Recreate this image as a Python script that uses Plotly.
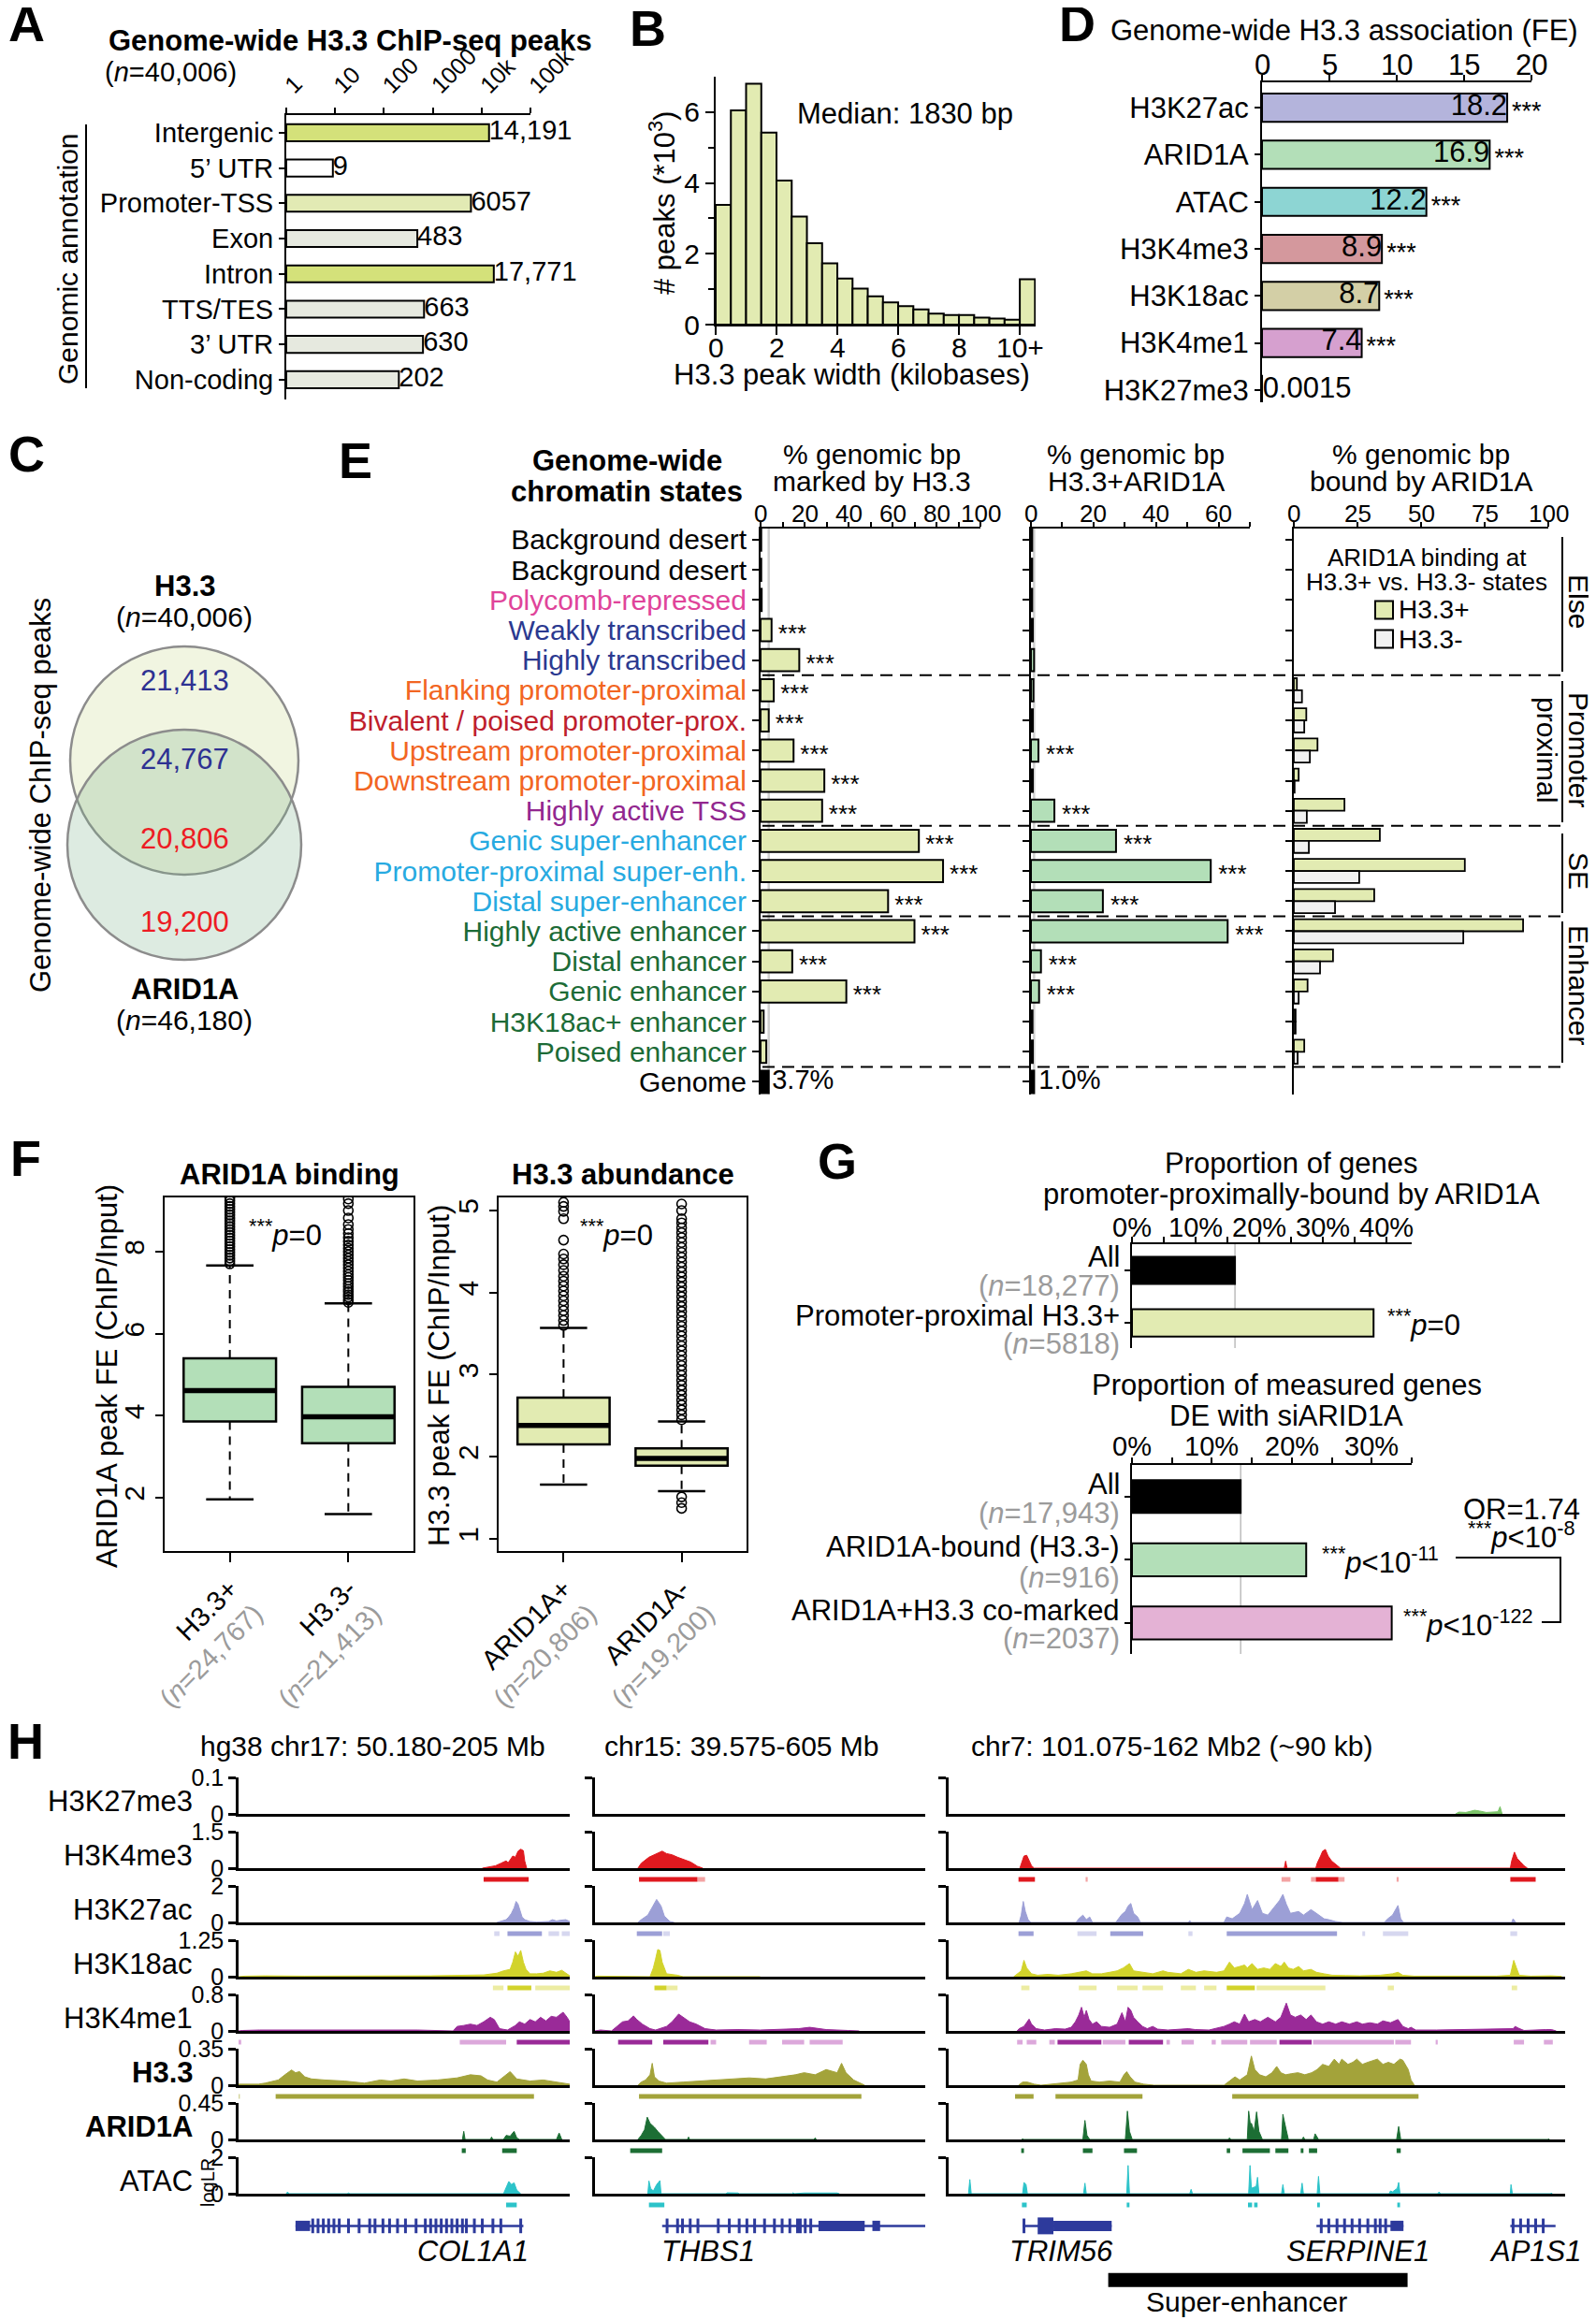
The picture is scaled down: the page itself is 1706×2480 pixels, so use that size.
import plotly.graph_objects as go

W, H = 1706, 2480
OFF = 8                      # page body margin of the browser
FW, FH = W - OFF, H - OFF    # figure size so the page fits exactly
FONT = "Arial, 'Liberation Sans', Helvetica, sans-serif"
K = "#000000"
NGRAY = "#9b9b9b"

# ======================= DATA =======================
# ---- A: genomic annotation of H3.3 peaks
A_annotation = ["Intergenic", "5’ UTR", "Promoter-TSS", "Exon", "Intron", "TTS/TES", "3’ UTR", "Non-coding"]
A_peaks = [14191, 9, 6057, 483, 17771, 663, 630, 202]
A_peak_labels = ["14,191", "9", "6057", "483", "17,771", "663", "630", "202"]
A_colors = ["#d4e17a", "#ffffff", "#e2eab4", "#e6e9df", "#d4e17a", "#e6e9df", "#e6e9df", "#e6e9df"]
A_tickvals = [1, 10, 100, 1000, 10000, 100000]
A_ticktext = ["1", "10", "100", "1000", "10k", "100k"]

# ---- B: peak width histogram
B_width_kb = [0.25, 0.75, 1.25, 1.75, 2.25, 2.75, 3.25, 3.75, 4.25, 4.75, 5.25, 5.75, 6.25,
              6.75, 7.25, 7.75, 8.25, 8.75, 9.25, 9.75, 10.25]
B_peaks_k = [3.38, 6.05, 6.8, 5.42, 4.07, 3.05, 2.3, 1.73, 1.3, 1.02, 0.8, 0.63, 0.52,
             0.43, 0.31, 0.27, 0.27, 0.2, 0.17, 0.14, 1.28]
B_tickvals = [0, 2, 4, 6, 8, 10]
B_ticktext = ["0", "2", "4", "6", "8", "10+"]

# ---- C: Venn
C_sets = ["H3.3", "ARID1A"]
C_totals = ["40,006", "46,180"]
C_region_counts = ["21,413", "24,767", "20,806", "19,200"]
C_region_colors = ["#2e3192", "#2e3192", "#ed1c24", "#ed1c24"]

# ---- D: H3.3 association FE
D_marks = ["H3K27ac", "ARID1A", "ATAC", "H3K4me3", "H3K18ac", "H3K4me1", "H3K27me3"]
D_fe = [18.2, 16.9, 12.2, 8.9, 8.7, 7.4, 0.0015]
D_fe_labels = ["18.2", "16.9", "12.2", "8.9", "8.7", "7.4", "0.0015"]
D_sig = ["***", "***", "***", "***", "***", "***", ""]
D_colors = ["#b4b4dc", "#b3dfb8", "#8dd5d3", "#d4989d", "#d3cfa6", "#d6a0cf", "#ffffff"]
D_tickvals = [0, 5, 10, 15, 20]

# ---- E: chromatin states
E_states = ["Background desert", "Background desert", "Polycomb-repressed", "Weakly transcribed",
            "Highly transcribed", "Flanking promoter-proximal", "Bivalent / poised promoter-prox.",
            "Upstream promoter-proximal", "Downstream promoter-proximal", "Highly active TSS",
            "Genic super-enhancer", "Promoter-proximal super-enh.", "Distal super-enhancer",
            "Highly active enhancer", "Distal enhancer", "Genic enhancer", "H3K18ac+ enhancer",
            "Poised enhancer", "Genome"]
E_state_colors = ["#000000", "#000000", "#e0449a", "#2b3990", "#2b3990", "#f26522", "#be1e2d",
                  "#f26522", "#f26522", "#92278f", "#27aae1", "#27aae1", "#27aae1", "#1c6b36",
                  "#1c6b36", "#1c6b36", "#1c6b36", "#1c6b36", "#000000"]
E_h33_pct = [0.3, 0.3, 0.5, 5.0, 17.6, 6.0, 3.7, 15.0, 29.0, 28.0, 72.0, 83.0, 58.0, 70.0,
             14.4, 39.0, 1.4, 2.6, 3.7]
E_h33_sig = ["", "", "", "***", "***", "***", "***", "***", "***", "***", "***", "***", "***",
             "***", "***", "***", "", "", ""]
E_co_pct = [0.4, 0.4, 0.4, 0.6, 1.0, 0.8, 0.6, 2.4, 0.6, 7.5, 27.2, 57.5, 23.0, 62.9, 3.2,
            2.6, 0.5, 0.6, 1.0]
E_co_sig = ["", "", "", "", "", "", "", "***", "", "***", "***", "***", "***", "***", "***",
            "***", "", "", ""]
E_genome_labels = ["3.7%", "1.0%"]
E3_plus = [None, None, None, None, None, 1.2, 4.9, 9.3, 1.9, 19.9, 33.8, 67.2, 31.6, 90.1,
           15.4, 5.4, 0.7, 4.1]
E3_minus = [None, None, None, None, None, 3.2, 4.1, 6.3, 0.3, 5.1, 5.9, 25.7, 16.2, 66.6,
            10.3, 1.9, 0.7, 1.5]
E_sections = ["Else", "Promoter", "SE", "Enhancer"]
E1_ticks = [0, 20, 40, 60, 80, 100]
E2_ticks = [0, 20, 40, 60]
E3_ticks = [0, 25, 50, 75, 100]

# ---- F: box plots
F_arid_groups = ["H3.3+", "H3.3-"]
F_arid_n = ["24,767", "21,413"]
F_arid_q1 = [3.86, 3.33]
F_arid_med = [4.61, 3.97]
F_arid_q3 = [5.40, 4.70]
F_arid_lo = [1.96, 1.60]
F_arid_hi = [7.66, 6.74]
F_arid_out_pos = [7.70, 7.77, 7.84, 7.91, 7.98, 8.05, 8.12, 8.19, 8.26, 8.33, 8.40, 8.47, 8.54,
                  8.61, 8.68, 8.75, 8.82, 8.89, 8.96, 9.03, 9.10, 9.17, 9.24, 9.31]
F_arid_out_neg = [6.76, 6.82, 6.89, 6.95, 7.02, 7.08, 7.15, 7.22, 7.30, 7.37, 7.44, 7.52, 7.60,
                  7.68, 7.76, 7.84, 7.92, 8.00, 8.08, 8.16, 8.25, 8.34, 8.44, 8.54, 8.66, 8.82,
                  9.00, 9.17, 9.28]
F_h33_groups = ["ARID1A+", "ARID1A-"]
F_h33_n = ["20,806", "19,200"]
F_h33_q1 = [2.15, 1.89]
F_h33_med = [2.38, 1.98]
F_h33_q3 = [2.72, 2.10]
F_h33_lo = [1.66, 1.58]
F_h33_hi = [3.57, 2.43]
F_h33_out_pos = [3.60, 3.66, 3.72, 3.78, 3.84, 3.90, 3.96, 4.02, 4.08, 4.14, 4.20, 4.27, 4.34,
                 4.41, 4.47, 4.64, 4.90, 4.99, 5.05, 5.10]
F_h33_out_neg = [2.45, 2.51, 2.57, 2.63, 2.69, 2.75, 2.81, 2.87, 2.93, 2.99, 3.05, 3.11, 3.17,
                 3.23, 3.29, 3.35, 3.41, 3.47, 3.53, 3.59, 3.65, 3.71, 3.77, 3.83, 3.89, 3.95,
                 4.01, 4.07, 4.13, 4.19, 4.25, 4.31, 4.37, 4.43, 4.49, 4.55, 4.61, 4.67, 4.73,
                 4.79, 4.85, 4.90, 5.00, 5.08, 1.51, 1.44, 1.37]

# ---- G: proportions
G1_groups = ["All", "Promoter-proximal H3.3+"]
G1_n = ["18,277", "5818"]
G1_pct = [16.2, 38.0]
G1_colors = ["#000000", "#e2ebb2"]
G1_ticks = [0, 10, 20, 30, 40]
G2_groups = ["All", "ARID1A-bound (H3.3-)", "ARID1A+H3.3 co-marked"]
G2_n = ["17,943", "916", "2037"]
G2_pct = [13.6, 21.8, 32.5]
G2_colors = ["#000000", "#b3dfb8", "#e4b2d5"]
G2_ticks = [0, 10, 20, 30]

# ---- H: genome browser tracks
H_tracks = ["H3K27me3", "H3K4me3", "H3K27ac", "H3K18ac", "H3K4me1", "<b>H3.3</b>", "<b>ARID1A</b>", "ATAC"]
H_track_max = [0.1, 1.5, 2, 1.25, 0.8, 0.35, 0.45, 2]
H_track_max_labels = ["0.1", "1.5", "2", "1.25", "0.8", "0.35", "0.45", "2"]
H_colors = ["#7cc46a", "#e0191f", "#9c9fd6", "#d2d32b", "#9a2a98", "#a3a33a", "#1c6e34", "#2cc3c9"]
H_light = ["#c6e6bd", "#f3a3a3", "#d6d7ef", "#ececa2", "#dca8db", "#d4d49a", "#8fbf99", "#9fe3e6"]
H_region_titles = ["hg38 chr17: 50.180-205 Mb", "chr15: 39.575-605 Mb", "chr7: 101.075-162 Mb2 (~90 kb)"]
H_region_kb = [25, 30, 90]

# chr17 region (kb from left edge, signal)
chr17_H3K27me3 = []
chr17_H3K4me3 = [(18.4, 0), (18.8, 0.05), (19.4, 0.1), (19.8, 0.2), (20.2, 0.3), (20.35, 0.22), (20.5, 0.35),
                 (20.7, 0.5), (20.9, 0.45), (21.1, 0.7), (21.3, 0.78), (21.5, 0.72), (21.6, 0.3), (21.75, 0)]
chr17_H3K27ac = [(19.5, 0), (19.8, 0.08), (20.2, 0.15), (20.4, 0.3), (20.6, 0.5), (20.8, 0.8), (20.95, 1.15),
                 (21.1, 1.0), (21.25, 0.6), (21.4, 0.3), (21.6, 0.15), (22.0, 0.05), (22.5, 0.02), (23.4, 0.05),
                 (23.7, 0.15), (24.0, 0.08), (24.3, 0.12), (24.7, 0.15), (25, 0.05)]
chr17_H3K18ac = [(0, 0), (0.5, 0.02), (2, 0.03), (5, 0.02), (14.5, 0.03), (16, 0.04), (18.5, 0.06), (19.5, 0.12),
                 (20, 0.2), (20.5, 0.25), (20.7, 0.5), (20.9, 0.85), (21.1, 0.7), (21.3, 0.9), (21.5, 0.5),
                 (21.7, 0.25), (22, 0.1), (22.5, 0.1), (23, 0.12), (23.5, 0.2), (24, 0.15), (24.4, 0.22),
                 (24.8, 0.08), (25, 0.03)]
chr17_H3K4me1 = [(0, 0), (0.3, 0.01), (1.6, 0.02), (13.5, 0.02), (16.2, 0), (16.5, 0.1), (17, 0.12), (17.5, 0.15),
                 (18, 0.12), (18.5, 0.2), (19, 0.3), (19.3, 0.25), (19.7, 0.05), (20.3, 0.02), (20.9, 0.12),
                 (21.2, 0.2), (21.6, 0.15), (22, 0.25), (22.4, 0.2), (22.8, 0.3), (23.2, 0.22), (23.6, 0.32),
                 (24, 0.3), (24.5, 0.41), (24.8, 0.3), (25, 0.2)]
chr17_H33 = [(0, 0.01), (1.5, 0.01), (2, 0.02), (3, 0.05), (3.5, 0.1), (4, 0.146), (4.3, 0.12), (4.6, 0.13),
             (5, 0.08), (5.5, 0.06), (6.5, 0.05), (8, 0.04), (9.5, 0.02), (10.7, 0.05), (11.5, 0.04),
             (12.5, 0.06), (13.5, 0.04), (15, 0.05), (16.5, 0.07), (17.5, 0.1), (18.3, 0.09), (18.8, 0.05),
             (19.5, 0.03), (20.5, 0.13), (21, 0.06), (22, 0.04), (23, 0.05), (24, 0.03), (25, 0.01)]
chr17_ARID1A = [(16.9, 0), (17.0, 0.1), (17.1, 0), (19.0, 0), (19.1, 0.03), (19.2, 0), (20.0, 0), (20.2, 0.05),
                (20.5, 0.04), (20.8, 0.1), (21.0, 0.02), (21.2, 0), (24.0, 0), (24.2, 0.08), (24.4, 0)]
chr17_ATAC = [(3.6, 0), (3.7, 0.1), (3.8, 0), (8.2, 0), (8.3, 0.04), (8.4, 0), (20.0, 0), (20.2, 0.3),
              (20.4, 0.67), (20.6, 0.5), (20.8, 0.6), (21.0, 0.2), (21.3, 0)]
chr17_H3K4me3_calls = [(18.5, 21.9, 1)]
chr17_H3K27ac_calls = [(19.3, 19.7, 0), (20.3, 22.9, 1), (23.4, 24.2, 0), (24.4, 25.0, 0)]
chr17_H3K18ac_calls = [(19.2, 20.0, 0), (20.3, 22.1, 1), (22.4, 25.0, 0)]
chr17_H3K4me1_calls = [(0.0, 0.2, 0), (16.7, 20.2, 0), (21.0, 25.0, 1)]
chr17_H33_calls = [(0.0, 0.1, 0), (2.8, 22.3, 1)]
chr17_ARID1A_calls = [(16.85, 17.15, 1), (19.9, 21.0, 1)]
chr17_ATAC_calls = [(20.2, 21.0, 1)]

# chr15 region
chr15_H3K27me3 = []
chr15_H3K4me3 = [(3.9, 0), (4.2, 0.2), (4.9, 0.45), (5.6, 0.6), (6.1, 0.7), (6.5, 0.6), (7.0, 0.55), (7.5, 0.45),
                 (8.2, 0.35), (8.7, 0.25), (9.3, 0.08), (9.8, 0)]
chr15_H3K27ac = [(3.9, 0), (4.2, 0.15), (4.8, 0.4), (5.2, 0.8), (5.6, 1.26), (6.0, 0.9), (6.3, 0.35), (6.8, 0.05),
                 (7.2, 0)]
chr15_H3K18ac = [(0, 0), (0.2, 0.02), (5.0, 0), (5.3, 0.3), (5.5, 0.6), (5.7, 0.93), (5.9, 0.9), (6.1, 0.5),
                 (6.5, 0.1), (7.5, 0.05), (8, 0), (14.5, 0.02), (15, 0)]
chr15_H3K4me1 = [(0, 0), (0.5, 0.02), (1.5, 0), (2.0, 0.1), (2.5, 0.2), (3.0, 0.22), (3.5, 0.33), (3.8, 0.25),
                 (4.3, 0.15), (5.0, 0.05), (5.5, 0.02), (6.5, 0.1), (7.0, 0.2), (7.6, 0.37), (8.0, 0.3),
                 (8.6, 0.2), (9.2, 0.15), (10.0, 0.05), (11, 0.02), (13, 0.03), (15, 0.02), (17, 0.04),
                 (18.5, 0.05), (19.5, 0.08), (20.3, 0.05), (21, 0.03), (23, 0.01), (24, 0)]
chr15_H33 = [(3.9, 0), (4.2, 0.03), (4.6, 0.05), (5.0, 0.1), (5.2, 0.21), (5.4, 0.08), (5.8, 0.04), (6.5, 0.02),
             (8, 0.03), (9.5, 0.04), (11, 0.05), (12.5, 0.06), (14, 0.07), (15.5, 0.06), (17, 0.08),
             (18.2, 0.1), (19, 0.12), (20, 0.1), (21, 0.15), (22, 0.12), (22.4, 0.21), (22.8, 0.12),
             (23.5, 0.05), (24.2, 0.01), (24.5, 0)]
chr15_ARID1A = [(3.9, 0), (4.2, 0.05), (4.5, 0.12), (4.75, 0.275), (5.0, 0.2), (5.4, 0.15), (5.7, 0.1),
                (6.1, 0.04), (6.4, 0), (8.4, 0), (8.5, 0.03), (8.6, 0), (19.9, 0), (20, 0.02), (20.1, 0)]
chr15_ATAC = [(4.8, 0), (4.9, 0.7), (5.05, 0.3), (5.3, 0.15), (5.6, 0.5), (5.9, 0.72), (6.0, 0), (11.9, 0),
              (12.0, 0.05), (13.0, 0.04), (13.1, 0), (17.9, 0), (18.0, 0.05), (18.1, 0), (19.0, 0.04),
              (20.5, 0.05), (21, 0.05), (22, 0.04), (22.2, 0)]
chr15_H3K4me3_calls = [(4.0, 9.3, 1), (9.3, 10.0, 0)]
chr15_H3K27ac_calls = [(3.8, 6.1, 1), (6.2, 6.8, 0)]
chr15_H3K18ac_calls = [(5.4, 6.5, 1), (6.5, 7.5, 0)]
chr15_H3K4me1_calls = [(2.1, 5.2, 1), (6.2, 10.3, 1), (10.5, 11.0, 0), (14.0, 15.6, 0), (17.0, 19.0, 0),
                       (19.5, 22.5, 0)]
chr15_H33_calls = [(4.0, 24.2, 1)]
chr15_ARID1A_calls = [(3.2, 6.1, 1)]
chr15_ATAC_calls = [(4.9, 6.3, 1)]

# chr7 region
chr7_H3K27me3 = [(74.0, 0), (74.5, 0.005), (75.5, 0.004), (76.8, 0.01), (77.5, 0.008), (78.5, 0.004),
                 (80.2, 0.006), (80.5, 0.02), (80.8, 0)]
chr7_H3K4me3 = [(10.4, 0), (10.6, 0.2), (11.0, 0.5), (11.4, 0.53), (11.75, 0.3), (12.1, 0.1), (12.5, 0),
                (49.0, 0), (49.2, 0.29), (49.4, 0), (53.6, 0), (53.8, 0.2), (54.3, 0.5), (54.6, 0.7),
                (55.0, 0.77), (55.4, 0.5), (55.9, 0.3), (56.5, 0.15), (57.2, 0), (82.0, 0), (82.2, 0.3),
                (82.6, 0.66), (83.0, 0.4), (83.5, 0.25), (84.0, 0.1), (84.5, 0)]
chr7_H3K27ac = [(10.3, 0), (10.6, 0.4), (10.9, 1.15), (11.2, 0.6), (11.6, 0.15), (12, 0), (18.6, 0), (19.0, 0.2),
                (19.6, 0.4), (20.1, 0.15), (20.6, 0.3), (21, 0), (24.4, 0), (24.8, 0.2), (25.3, 0.45),
                (25.8, 0.6), (26.2, 0.9), (26.6, 1.04), (27.0, 0.5), (27.6, 0.3), (28.0, 0), (35.0, 0),
                (35.2, 0.1), (35.4, 0), (40.2, 0), (40.6, 0.3), (41.4, 0.2), (42.5, 0.5), (43.2, 1.04),
                (43.6, 1.54), (44.3, 0.7), (45.1, 1.2), (45.8, 0.5), (46.6, 0.4), (47.7, 0.9), (48.3, 1.2),
                (48.8, 1.54), (49.3, 1.0), (49.9, 0.5), (51.1, 0.6), (51.8, 0.4), (52.9, 0.7), (53.7, 0.5),
                (54.8, 0.2), (55.5, 0.15), (56.5, 0.05), (57.5, 0), (63.6, 0), (64.1, 0.2), (64.8, 0.4),
                (65.6, 0.93), (66.0, 0.2), (66.4, 0), (82.2, 0), (82.4, 0.2), (82.8, 0)]
chr7_H3K18ac = [(9.5, 0), (10.6, 0.2), (11.0, 0.56), (11.4, 0.3), (12.1, 0.1), (13, 0.05), (14.5, 0.08),
                (16, 0.05), (17.9, 0.1), (19.0, 0.15), (20.1, 0.2), (21.0, 0.1), (22.3, 0.1), (23.5, 0.15),
                (24.6, 0.2), (25.5, 0.3), (26.4, 0.45), (27.0, 0.2), (28.3, 0.15), (29.8, 0.1), (31.3, 0.2),
                (32.0, 0.15), (33.9, 0.1), (35.0, 0.25), (36.1, 0.15), (37.3, 0.2), (39.1, 0.15), (40.2, 0.2),
                (41.0, 0.5), (41.7, 0.3), (42.5, 0.35), (43.2, 0.4), (43.6, 0.3), (44.3, 0.45), (45.1, 0.25),
                (46.0, 0.3), (46.9, 0.25), (47.7, 0.45), (48.5, 0.35), (49.0, 0.5), (49.6, 0.3), (50.3, 0.25),
                (51.1, 0.35), (51.8, 0.2), (52.9, 0.25), (53.7, 0.15), (54.8, 0.1), (56, 0.05), (58, 0.04),
                (60, 0.03), (63, 0.05), (64.8, 0.1), (65.6, 0.15), (66.3, 0.05), (68, 0.02), (70, 0.02),
                (75, 0.02), (80, 0.02), (82.0, 0.05), (82.5, 0.56), (82.9, 0.3), (83.3, 0.05), (85, 0.02),
                (88, 0.03), (89.5, 0.01)]
chr7_H3K4me1 = [(10.0, 0), (10.3, 0.05), (11.0, 0.1), (11.75, 0.26), (12.1, 0.15), (12.8, 0.05), (14, 0.02),
                (15.6, 0.05), (17.0, 0.04), (17.9, 0.08), (18.5, 0.2), (19.0, 0.35), (19.4, 0.52), (19.8, 0.3),
                (20.1, 0.45), (20.5, 0.25), (21.0, 0.15), (21.6, 0.2), (22.3, 0.1), (23.5, 0.08), (24.6, 0.15),
                (25.3, 0.4), (25.8, 0.2), (26.2, 0.52), (26.6, 0.45), (27.0, 0.3), (27.6, 0.2), (28.3, 0.1),
                (29.0, 0.05), (29.8, 0.1), (30.5, 0.04), (32.0, 0.02), (35.0, 0.05), (36, 0.03), (38, 0.02),
                (40.2, 0.1), (41.0, 0.15), (41.7, 0.2), (42.5, 0.15), (43.2, 0.37), (43.8, 0.2), (44.7, 0.25),
                (45.5, 0.2), (46.6, 0.3), (47.7, 0.2), (48.5, 0.3), (49.3, 0.61), (49.9, 0.35), (50.6, 0.3),
                (51.4, 0.35), (52.2, 0.25), (52.9, 0.35), (53.7, 0.2), (54.6, 0.15), (55.5, 0.2), (56.5, 0.15),
                (57.4, 0.2), (58.5, 0.15), (59.6, 0.2), (60.4, 0.15), (61.5, 0.18), (62.6, 0.15), (63.4, 0.22),
                (64.5, 0.18), (65.6, 0.25), (66.3, 0.1), (67.1, 0.05), (67.5, 0.08), (68.2, 0.02), (71.2, 0.02),
                (82.4, 0.05), (82.7, 0.1), (83.2, 0.06), (84, 0.01), (87.2, 0.03), (88.0, 0.03), (88.7, 0)]
chr7_H33 = [(10.2, 0), (10.8, 0.03), (11.5, 0.03), (12.5, 0.01), (13.5, 0), (16, 0.02), (17.9, 0.03),
            (18.9, 0.05), (19.2, 0.2), (19.6, 0.24), (20.1, 0.2), (20.4, 0.1), (20.8, 0.04), (22, 0.03),
            (23.5, 0.04), (25.0, 0.03), (25.6, 0.1), (26.0, 0.13), (26.5, 0.08), (27.2, 0.03), (28.5, 0.01),
            (30, 0), (40.2, 0), (41.0, 0.04), (41.8, 0.08), (42.5, 0.05), (43.2, 0.08), (43.6, 0.1),
            (44.2, 0.28), (44.7, 0.15), (45.4, 0.1), (46.3, 0.08), (47.2, 0.12), (47.9, 0.18), (48.5, 0.12),
            (49.2, 0.1), (50.0, 0.11), (51.0, 0.12), (52.0, 0.1), (53.0, 0.12), (53.8, 0.15), (54.6, 0.2),
            (55.5, 0.18), (56.3, 0.25), (57.0, 0.2), (57.4, 0.25), (58.3, 0.2), (59.0, 0.22), (59.6, 0.25),
            (60.4, 0.2), (61.2, 0.22), (62.6, 0.25), (63.4, 0.2), (64.2, 0.22), (65.0, 0.2), (65.9, 0.25),
            (66.3, 0.24), (67.1, 0.15), (67.5, 0.05), (68.0, 0)]
chr7_ARID1A = [(10.7, 0), (10.8, 0.01), (10.9, 0), (19.6, 0), (19.9, 0.235), (20.2, 0.05), (20.6, 0), (25.8, 0),
               (26.1, 0.35), (26.4, 0.1), (26.8, 0), (40.8, 0), (41.0, 0.02), (41.2, 0), (43.6, 0), (43.8, 0.35),
               (44.1, 0.15), (44.2, 0.2), (44.6, 0.1), (44.96, 0.34), (45.3, 0.1), (45.8, 0), (48.6, 0),
               (48.8, 0.31), (49.2, 0.15), (49.6, 0), (51.6, 0), (51.8, 0.03), (52.0, 0), (53.3, 0),
               (53.5, 0.07), (53.8, 0.03), (54.0, 0), (65.4, 0), (65.7, 0.16), (66.0, 0), (87.5, 0),
               (87.6, 0.01), (87.7, 0)]
chr7_ATAC = [(2.9, 0), (3.1, 0.78), (3.3, 0), (10.8, 0), (11.0, 0.62), (11.3, 0.5), (11.5, 0), (19.7, 0),
             (19.9, 0.58), (20.1, 0), (26.0, 0), (26.2, 1.55), (26.4, 0), (35.2, 0), (35.4, 0.24), (35.6, 0),
             (43.8, 0), (44.0, 1.55), (44.2, 0.3), (44.9, 0.4), (45.1, 0.9), (45.3, 0), (48.6, 0), (48.8, 0.5),
             (49.0, 0), (51.4, 0), (51.6, 0.58), (51.8, 0), (53.8, 0), (54.0, 0.95), (54.2, 0), (64.3, 0),
             (64.5, 0.15), (64.8, 0.1), (65.5, 0.3), (65.7, 0.62), (65.9, 0), (71.4, 0), (71.6, 0.1),
             (71.8, 0), (82.0, 0), (82.1, 0.5), (82.3, 0), (87.9, 0), (88.0, 0.05), (88.1, 0)]
chr7_H3K4me3_calls = [(10.2, 12.6, 1), (20.0, 20.3, 0), (48.6, 49.9, 0), (52.9, 53.6, 0), (53.6, 56.9, 1),
                      (56.9, 57.8, 0), (65.4, 65.7, 0), (82.0, 85.7, 1)]
chr7_H3K27ac_calls = [(10.2, 12.4, 1), (18.8, 21.6, 0), (23.6, 28.4, 1), (35.0, 35.6, 0), (40.6, 56.7, 1),
                      (60.4, 60.8, 0), (63.4, 67.1, 0), (82.0, 83.0, 0)]
chr7_H3K18ac_calls = [(10.6, 11.8, 0), (19.0, 21.6, 0), (24.6, 27.6, 0), (28.3, 31.3, 0), (33.9, 36.1, 0),
                      (37.3, 39.1, 0), (40.6, 44.7, 1), (44.96, 55.0, 0), (64.1, 65.0, 0), (82.2, 83.0, 0)]
chr7_H3K4me1_calls = [(10.0, 10.8, 0), (11.4, 12.8, 0), (14.7, 15.5, 0), (15.9, 22.3, 1), (22.5, 25.8, 0),
                      (26.3, 31.3, 1), (31.8, 32.3, 0), (34.0, 35.8, 0), (38.4, 39.0, 0), (39.8, 43.6, 0),
                      (44.0, 47.9, 0), (48.3, 53.0, 1), (53.2, 65.0, 0), (65.2, 67.5, 0), (71.1, 71.4, 0),
                      (82.5, 84.0, 0), (86.9, 88.2, 0)]
chr7_H33_calls = [(9.7, 12.4, 1), (15.6, 28.3, 1), (41.4, 68.6, 1)]
chr7_ARID1A_calls = [(10.6, 11.0, 1), (19.6, 21.0, 1), (25.6, 27.5, 1), (40.6, 41.1, 1), (42.9, 46.9, 1),
                     (47.7, 49.6, 1), (51.4, 51.8, 1), (52.6, 53.8, 1), (65.4, 66.0, 1)]
chr7_ATAC_calls = [(10.7, 11.4, 1), (26.0, 26.4, 1), (43.7, 44.3, 1), (44.6, 45.1, 1), (53.8, 54.2, 1),
                   (65.5, 65.9, 1)]

# genes (kb within each region)
H_genes = ["COL1A1", "THBS1", "TRIM56", "SERPINE1", "AP1S1"]
H_gene_region = [0, 1, 2, 2, 2]
H_gene_span_kb = [(4.3, 21.5), (6.1, 30.0), (10.8, 23.8), (53.7, 66.4), (82.0, 88.6)]
H_gene_label_kb = [17.7, 10.3, 16.5, 59.8, 85.7]
H_gene_blocks_kb = [[(4.3, 5.4)], [(20.3, 24.5), (25.2, 25.9)], [(15.3, 23.8)], [(64.5, 66.4)], []]
H_gene_bigblocks_kb = [[], [], [(13.0, 15.3)], [], []]
H_gene_exons_kb = [
    [5.6, 6.0, 6.4, 6.8, 7.2, 7.6, 8.3, 9.1, 9.9, 10.3, 10.9, 11.4, 12.0, 12.6, 13.4, 14.1, 14.5, 14.9,
     15.3, 15.7, 16.1, 16.5, 16.9, 17.2, 17.8, 18.4, 19.2, 19.8, 21.3],
    [6.55, 7.5, 7.95, 8.65, 9.35, 11.2, 12.2, 13.1, 13.8, 14.5, 15.4, 16.3, 17.0, 17.7, 18.4, 18.65, 19.1, 19.6],
    [11.0],
    [54.4, 55.5, 56.7, 57.8, 58.9, 60.0, 61.2, 62.3, 63.0, 63.8],
    [82.4, 83.5, 84.6, 85.7, 86.8]]
H_superenhancer_kb = (23.3, 67.0)
H_superenhancer_label_kb = 43.5

# ======================= HELPERS =======================
layout_axes = {}
annotations = []
shapes = []
traces = []
_count = [0]


def fx(p):
    return (p - OFF) / FW


def fy(p):
    return 1 - (p - OFF) / FH


def clamp(v):
    return min(1.0, max(0.0, v))


def new_axes(x0, x1, y0, y1, xa=None, ya=None):
    _count[0] += 1
    n = _count[0]
    s = "" if n == 1 else str(n)
    xd = dict(domain=[clamp(fx(x0)), clamp(fx(x1))], anchor="y" + s,
              showgrid=False, zeroline=False, fixedrange=True, automargin=False)
    yd = dict(domain=[clamp(fy(y1)), clamp(fy(y0))], anchor="x" + s,
              showgrid=False, zeroline=False, fixedrange=True, automargin=False)
    if xa:
        xd.update(xa)
    if ya:
        yd.update(ya)
    layout_axes["xaxis" + s] = xd
    layout_axes["yaxis" + s] = yd
    return "x" + s, "y" + s


def ax(size=28, **kw):
    d = dict(showline=True, linecolor=K, linewidth=2, ticks="outside", ticklen=8, tickwidth=2,
             tickcolor=K, tickfont=dict(family=FONT, size=size, color=K))
    d.update(kw)
    return d


def minor(vals, ln=6):
    return dict(tickvals=vals, ticks="outside", ticklen=ln, tickwidth=2, tickcolor=K)


def note(x, y, s, size=30, color=K, xanchor="center", yanchor="middle", angle=0, xref="paper", yref="paper"):
    if xref == "paper":
        x = fx(x)
    if yref == "paper":
        y = fy(y)
    annotations.append(dict(x=x, y=y, xref=xref, yref=yref, text=s, showarrow=False,
                            xanchor=xanchor, yanchor=yanchor, textangle=angle,
                            font=dict(family=FONT, size=size, color=color)))


def xlabels(xa0, vals, texts, ypx, size):
    # tick labels of an x axis placed at the reference's distance from the axis line
    for v, t in zip(vals, texts):
        note(v, ypx, t, size, xref=xa0)


def pline(x0, y0, x1, y1, width=2, dash="solid", color=K):
    shapes.append(dict(type="line", xref="paper", yref="paper", x0=fx(x0), x1=fx(x1),
                       y0=fy(y0), y1=fy(y1), line=dict(color=color, width=width, dash=dash)))


def txt(xa, ya, x, y, t, pos, size=28, color=K):
    traces.append(go.Scatter(x=x, y=y, text=t, mode="text", textposition=pos,
                             textfont=dict(family=FONT, size=size, color=color),
                             cliponaxis=False, xaxis=xa, yaxis=ya, hoverinfo="skip"))


# panel letters
for L, lx, ly in [("A", 28, 25), ("B", 692, 30), ("C", 28, 485), ("D", 1151, 25), ("E", 380, 492),
                  ("F", 27, 1238), ("G", 895, 1241), ("H", 27, 1861)]:
    note(lx, ly, "<b>%s</b>" % L, 54)

# ======================= PANEL A =======================
rowsA = list(range(len(A_annotation)))
xa_, ya_ = new_axes(306, 567, 123, 427,
                    xa=ax(25, type="log", range=[0, 5], side="top", tickvals=A_tickvals,
                          ticktext=A_ticktext, tickangle=-45, ticklen=6),
                    ya=ax(29, range=[7.56, -0.5], tickvals=rowsA, ticktext=A_annotation, ticklen=6))
traces.append(go.Bar(orientation="h", y=rowsA, x=[v - 1 for v in A_peaks], base=1, width=0.48,
                     marker=dict(color=A_colors, line=dict(color=K, width=2)), xaxis=xa_, yaxis=ya_,
                     hoverinfo="skip"))
txt(xa_, ya_, A_peaks, rowsA, A_peak_labels, "middle right", 29)
note(114, 43, "<b>Genome-wide H3.3 ChIP-seq peaks</b>", 31, xanchor="left")
note(110, 77, "(<i>n</i>=40,006)", 29, xanchor="left")
note(73, 277, "Genomic annotation", 30, angle=-90)
pline(92, 133, 92, 415)

# ======================= PANEL B =======================
xb, yb = new_axes(765, 1107, 82, 347,
                  xa=ax(30, range=[0, 10.52], tickvals=B_tickvals, showticklabels=False, ticklen=9),
                  ya=ax(30, range=[0, 7.0], tickvals=[0, 2, 4, 6], ticklen=9, minor=minor([1, 3, 5], 6)))
traces.append(go.Bar(x=B_width_kb, y=B_peaks_k, width=0.5,
                     marker=dict(color="#e2ebb2", line=dict(color=K, width=2)), xaxis=xb, yaxis=yb,
                     hoverinfo="skip"))
xlabels(xb, B_tickvals, B_ticktext, 371, 30)
note(850, 122, "Median: 1830 bp", 31, xanchor="left")
note(910, 401, "H3.3 peak width (kilobases)", 31)
note(708, 217, "# peaks (*10<sup>3</sup>)", 31, angle=-90)

# ======================= PANEL C =======================
shapes.append(dict(type="circle", xref="paper", yref="paper", x0=fx(75), x1=fx(319),
                   y0=fy(935), y1=fy(691), fillcolor="rgba(201,217,135,0.25)",
                   line=dict(color="#8c8c8c", width=2.5)))
shapes.append(dict(type="circle", xref="paper", yref="paper", x0=fx(72), x1=fx(322),
                   y0=fy(1026), y1=fy(780), fillcolor="rgba(120,175,135,0.25)",
                   line=dict(color="#8c8c8c", width=2.5)))
note(197, 626, "<b>%s</b>" % C_sets[0], 31)
note(197, 659, "(<i>n</i>=%s)" % C_totals[0], 30)
for s, c, yy in zip(C_region_counts, C_region_colors, [727, 811, 896, 986]):
    note(197, yy, s, 31, color=c)
note(197, 1058, "<b>%s</b>" % C_sets[1], 31)
note(197, 1090, "(<i>n</i>=%s)" % C_totals[1], 30)
note(43, 850, "Genome-wide ChIP-seq peaks", 31, angle=-90)

# ======================= PANEL D =======================
rowsD = list(range(len(D_marks)))
xd_, yd_ = new_axes(1349, 1637, 88, 430,
                    xa=ax(30, range=[0, 20], side="top", tickvals=D_tickvals, showticklabels=False, ticklen=6),
                    ya=ax(31, range=[6.26, -0.54], tickvals=rowsD, ticktext=D_marks, ticklen=6))
traces.append(go.Bar(orientation="h", y=rowsD, x=D_fe, width=0.6,
                     marker=dict(color=D_colors, line=dict(color=K, width=2)), xaxis=xd_, yaxis=yd_,
                     hoverinfo="skip"))
xlabels(xd_, D_tickvals, [str(v) for v in D_tickvals], 70, 31)
txt(xd_, yd_, D_fe[:6], rowsD[:6], D_fe_labels[:6], "middle left", 31)
txt(xd_, yd_, [v + 0.35 for v in D_fe[:6]], [r + 0.12 for r in rowsD[:6]], D_sig[:6], "middle right", 27)
txt(xd_, yd_, [0.05], [6], [D_fe_labels[6]], "middle right", 31)
note(1185, 33, "Genome-wide H3.3 association (FE)", 31, xanchor="left")

# ======================= PANEL E =======================
E_rows = list(range(len(E_states)))
E_yr = [18.42, -0.37]
E_tt = ["<span style='color:%s'>%s</span>" % (c, s) for s, c in zip(E_states, E_state_colors)]
xe1, ye1 = new_axes(813, 1048, 565, 1170,
                    xa=ax(26, range=[0, 100], side="top", tickvals=E1_ticks, showticklabels=False, ticklen=5,
                          minor=minor([10, 30, 50, 70, 90], 5)),
                    ya=ax(30, range=E_yr, tickvals=E_rows, ticktext=E_tt, ticklen=7))
xe2, ye2 = new_axes(1102, 1336, 565, 1170,
                    xa=ax(26, range=[0, 70], side="top", tickvals=E2_ticks, showticklabels=False, ticklen=5,
                          minor=minor([10, 30, 50, 70], 5)),
                    ya=ax(26, range=E_yr, tickvals=E_rows, showticklabels=False, ticklen=7))
xe3, ye3 = new_axes(1383, 1655, 565, 1170,
                    xa=ax(26, range=[0, 100], side="top", tickvals=E3_ticks, showticklabels=False, ticklen=5),
                    ya=ax(26, range=E_yr, tickvals=E_rows[:18], showticklabels=False, ticklen=7))
xlabels(xe1, E1_ticks, [str(v) for v in E1_ticks], 549, 26)
xlabels(xe2, E2_ticks, [str(v) for v in E2_ticks], 549, 26)
xlabels(xe3, E3_ticks, [str(v) for v in E3_ticks], 549, 26)
for xa0, ya0, v in [(xe1, ye1, E_h33_pct[-1]), (xe2, ye2, E_co_pct[-1])]:
    shapes.append(dict(type="line", xref=xa0, yref=ya0 + " domain", x0=v, x1=v, y0=0, y1=1,
                       line=dict(color="#cfcfcf", width=2.5), layer="below"))
e1_cols = ["#e2ebb2"] * (len(E_rows) - 1) + [K]
e2_cols = ["#b3dfb8"] * (len(E_rows) - 1) + [K]
traces.append(go.Bar(orientation="h", y=E_rows, x=E_h33_pct, width=0.74,
                     marker=dict(color=e1_cols, line=dict(color=K, width=2)), xaxis=xe1, yaxis=ye1,
                     hoverinfo="skip"))
traces.append(go.Bar(orientation="h", y=E_rows, x=E_co_pct, width=0.74,
                     marker=dict(color=e2_cols, line=dict(color=K, width=2)), xaxis=xe2, yaxis=ye2,
                     hoverinfo="skip"))
s1 = [i for i in E_rows if E_h33_sig[i]]
txt(xe1, ye1, [E_h33_pct[i] + 3.0 for i in s1], [i + 0.18 for i in s1], [E_h33_sig[i] for i in s1],
    "middle right", 26)
s2 = [i for i in E_rows if E_co_sig[i]]
txt(xe2, ye2, [E_co_pct[i] + 2.4 for i in s2], [i + 0.18 for i in s2], [E_co_sig[i] for i in s2],
    "middle right", 26)
txt(xe1, ye1, [E_h33_pct[-1] + 1.5], [18], [E_genome_labels[0]], "middle right", 29)
txt(xe2, ye2, [E_co_pct[-1] + 1.5], [18], [E_genome_labels[1]], "middle right", 29)
r3 = [i for i in range(len(E3_plus)) if E3_plus[i] is not None]
traces.append(go.Bar(orientation="h", y=[i - 0.2 for i in r3], x=[E3_plus[i] for i in r3], width=0.4,
                     marker=dict(color="#e2ebb2", line=dict(color=K, width=1.8)), xaxis=xe3, yaxis=ye3,
                     hoverinfo="skip"))
traces.append(go.Bar(orientation="h", y=[i + 0.2 for i in r3], x=[E3_minus[i] for i in r3], width=0.4,
                     marker=dict(color="#f1f1f1", line=dict(color=K, width=1.8)), xaxis=xe3, yaxis=ye3,
                     hoverinfo="skip"))
for yv in [4.5, 9.5, 12.5, 17.5]:
    shapes.append(dict(type="line", xref="paper", yref=ye1, x0=fx(815), x1=fx(1671), y0=yv, y1=yv,
                       line=dict(color=K, width=2, dash="13px,8px")))
for (a, b), lab, cy in zip([(574, 718), (728, 879), (891, 976), (985, 1136)], E_sections,
                           [643, 801, 931, 1053]):
    pline(1670, a, 1670, b, 2)
    note(1688, cy, lab, 30, angle=90)
note(1654, 801, "proximal", 30, angle=90)
note(670, 492, "<b>Genome-wide</b>", 31)
note(670, 525, "<b>chromatin states</b>", 31)
for cx, l1, l2 in [(932, "% genomic bp", "marked by H3.3"), (1214, "% genomic bp", "H3.3+ARID1A"),
                   (1519, "% genomic bp", "bound by ARID1A")]:
    note(cx, 486, l1, 30)
    note(cx, 515, l2, 30)
note(1525, 596, "ARID1A binding at", 26)
note(1525, 622, "H3.3+ vs. H3.3- states", 26)
for yy, col, lab in [(652, "#e2ebb2", "H3.3+"), (683, "#f1f1f1", "H3.3-")]:
    shapes.append(dict(type="rect", xref="paper", yref="paper", x0=fx(1470), x1=fx(1489),
                       y0=fy(yy + 9.5), y1=fy(yy - 9.5), fillcolor=col,
                       line=dict(color=K, width=2)))
    note(1493, yy, lab, 28, xanchor="left")


# ======================= PANEL F =======================
def draw_boxes(xa0, ya0, q1, med, q3, lo, hi, out_pos, out_neg, fill):
    g = [1, 2]
    ox = [1] * len(out_pos) + [2] * len(out_neg)
    traces.append(go.Scatter(x=ox, y=out_pos + out_neg, mode="markers",
                             marker=dict(symbol="circle-open", size=10, color=K, line=dict(width=1.6, color=K)),
                             xaxis=xa0, yaxis=ya0, hoverinfo="skip"))
    wx, wy, cx, cy, mx, my = [], [], [], [], [], []
    for i, gx in enumerate(g):
        wx += [gx, gx, None, gx, gx, None]
        wy += [q3[i], hi[i], None, q1[i], lo[i], None]
        cx += [gx - 0.2, gx + 0.2, None, gx - 0.2, gx + 0.2, None]
        cy += [hi[i], hi[i], None, lo[i], lo[i], None]
        mx += [gx - 0.385, gx + 0.385, None]
        my += [med[i], med[i], None]
    traces.append(go.Scatter(x=wx, y=wy, mode="lines", line=dict(color=K, width=2, dash="9px,7px"),
                             xaxis=xa0, yaxis=ya0, hoverinfo="skip"))
    traces.append(go.Scatter(x=cx, y=cy, mode="lines", line=dict(color=K, width=2.5),
                             xaxis=xa0, yaxis=ya0, hoverinfo="skip"))
    traces.append(go.Bar(x=g, y=[q3[i] - q1[i] for i in range(2)], base=q1, width=0.78,
                         marker=dict(color=fill, line=dict(color=K, width=2.5)), xaxis=xa0, yaxis=ya0,
                         hoverinfo="skip"))
    traces.append(go.Scatter(x=mx, y=my, mode="lines", line=dict(color=K, width=5.5),
                             xaxis=xa0, yaxis=ya0, hoverinfo="skip"))


def f_ticks(groups, ns):
    return ["%s<br><span style='color:%s'>(<i>n</i>=%s)</span>" % (g, NGRAY, n) for g, n in zip(groups, ns)]


xf1, yf1 = new_axes(176, 442, 1280, 1658,
                    xa=ax(29, range=[0.45, 2.55], mirror=True, tickvals=[1, 2],
                          ticktext=f_ticks(F_arid_groups, F_arid_n), tickangle=-45, ticklen=10),
                    ya=ax(30, range=[0.7, 9.32], mirror=True, tickvals=[2, 4, 6, 8], tickangle=-90))
draw_boxes(xf1, yf1, F_arid_q1, F_arid_med, F_arid_q3, F_arid_lo, F_arid_hi, F_arid_out_pos,
           F_arid_out_neg, "#b3dfb8")
xf2, yf2 = new_axes(533, 798, 1280, 1658,
                    xa=ax(29, range=[0.45, 2.55], mirror=True, tickvals=[1, 2],
                          ticktext=f_ticks(F_h33_groups, F_h33_n), tickangle=-45, ticklen=10),
                    ya=ax(30, range=[0.85, 5.16], mirror=True, tickvals=[1, 2, 3, 4, 5], tickangle=-90))
draw_boxes(xf2, yf2, F_h33_q1, F_h33_med, F_h33_q3, F_h33_lo, F_h33_hi, F_h33_out_pos,
           F_h33_out_neg, "#e2ebb2")
note(309, 1255, "<b>ARID1A binding</b>", 31)
note(666, 1255, "<b>H3.3 abundance</b>", 31)
note(114, 1471, "ARID1A peak FE (ChIP/Input)", 31, angle=-90)
note(469, 1471, "H3.3 peak FE (ChIP/Input)", 31, angle=-90)
note(264, 1318, "<sup>***</sup><i>p</i>=0", 31, xanchor="left")
note(618, 1318, "<sup>***</sup><i>p</i>=0", 31, xanchor="left")

# ======================= PANEL G =======================
rowsG1 = list(range(len(G1_groups)))
xg1, yg1 = new_axes(1210, 1509, 1330, 1441,
                    xa=ax(29, range=[0, 44], side="top", tickvals=G1_ticks, showticklabels=False, ticklen=6,
                          minor=minor([5, 15, 25, 35], 6)),
                    ya=ax(28, range=[1.48, -0.5], tickvals=rowsG1, showticklabels=False, ticklen=6))
xlabels(xg1, G1_ticks, ["%d%%" % v for v in G1_ticks], 1312, 29)
shapes.append(dict(type="line", xref=xg1, yref=yg1 + " domain", x0=G1_pct[0], x1=G1_pct[0], y0=0, y1=1,
                   line=dict(color="#bdbdbd", width=1.5), layer="below"))
traces.append(go.Bar(orientation="h", y=rowsG1, x=G1_pct, width=0.52,
                     marker=dict(color=G1_colors, line=dict(color=K, width=2)), xaxis=xg1, yaxis=yg1,
                     hoverinfo="skip"))
rowsG2 = list(range(len(G2_groups)))
xg2, yg2 = new_axes(1210, 1509, 1566, 1768,
                    xa=ax(29, range=[0, 35], side="top", tickvals=G2_ticks, showticklabels=False, ticklen=6,
                          minor=minor([5, 15, 25, 35], 6)),
                    ya=ax(28, range=[2.49, -0.5], tickvals=rowsG2, showticklabels=False, ticklen=6))
xlabels(xg2, G2_ticks, ["%d%%" % v for v in G2_ticks], 1546, 29)
shapes.append(dict(type="line", xref=xg2, yref=yg2 + " domain", x0=G2_pct[0], x1=G2_pct[0], y0=0, y1=1,
                   line=dict(color="#bdbdbd", width=1.5), layer="below"))
traces.append(go.Bar(orientation="h", y=rowsG2, x=G2_pct, width=0.52,
                     marker=dict(color=G2_colors, line=dict(color=K, width=2)), xaxis=xg2, yaxis=yg2,
                     hoverinfo="skip"))
for g, n, y1, y2 in zip(G1_groups, G1_n, [1343, 1407], [1374, 1437]):
    note(1199, y1, g, 31, xanchor="right")
    note(1199, y2, "(<i>n</i>=%s)" % n, 31, color=NGRAY, xanchor="right")
for g, n, y1, y2 in zip(G2_groups, G2_n, [1586, 1653, 1721], [1617, 1686, 1751]):
    note(1199, y1, g, 31, xanchor="right")
    note(1199, y2, "(<i>n</i>=%s)" % n, 31, color=NGRAY, xanchor="right")
note(1380, 1243, "Proportion of genes", 31)
note(1380, 1276, "promoter-proximally-bound by ARID1A", 31)
note(1375, 1480, "Proportion of measured genes", 31)
note(1375, 1513, "DE with siARID1A", 31)
note(1481, 1414, "<sup>***</sup><i>p</i>=0", 31, xanchor="left")
note(1411, 1668, "<sup>***</sup><i>p</i>&lt;10<sup>-11</sup>", 31, xanchor="left")
note(1498, 1735, "<sup>***</sup><i>p</i>&lt;10<sup>-122</sup>", 31, xanchor="left")
shapes.append(dict(type="path", xref="paper", yref="paper",
                   path="M %f,%f L %f,%f L %f,%f L %f,%f" % (fx(1556), fy(1665), fx(1668), fy(1665),
                                                             fx(1668), fy(1734), fx(1648), fy(1734)),
                   line=dict(color=K, width=2)))
note(1626, 1613, "OR=1.74", 31)
note(1626, 1641, "<sup>***</sup><i>p</i>&lt;10<sup>-8</sup>", 31)

# ======================= PANEL H =======================
signals = [
    [chr17_H3K27me3, chr17_H3K4me3, chr17_H3K27ac, chr17_H3K18ac, chr17_H3K4me1, chr17_H33, chr17_ARID1A, chr17_ATAC],
    [chr15_H3K27me3, chr15_H3K4me3, chr15_H3K27ac, chr15_H3K18ac, chr15_H3K4me1, chr15_H33, chr15_ARID1A, chr15_ATAC],
    [chr7_H3K27me3, chr7_H3K4me3, chr7_H3K27ac, chr7_H3K18ac, chr7_H3K4me1, chr7_H33, chr7_ARID1A, chr7_ATAC]]
calls = [
    [[], chr17_H3K4me3_calls, chr17_H3K27ac_calls, chr17_H3K18ac_calls, chr17_H3K4me1_calls, chr17_H33_calls,
     chr17_ARID1A_calls, chr17_ATAC_calls],
    [[], chr15_H3K4me3_calls, chr15_H3K27ac_calls, chr15_H3K18ac_calls, chr15_H3K4me1_calls, chr15_H33_calls,
     chr15_ARID1A_calls, chr15_ATAC_calls],
    [[], chr7_H3K4me3_calls, chr7_H3K27ac_calls, chr7_H3K18ac_calls, chr7_H3K4me1_calls, chr7_H33_calls,
     chr7_ARID1A_calls, chr7_ATAC_calls]]
region_px = [(255, 609), (636, 989), (1014, 1673)]
title_x = [398, 793, 1252]
gene_axes = []
for r in range(3):
    x0, x1 = region_px[r]
    kb = H_region_kb[r]
    note(title_x[r], 1866, H_region_titles[r], 30)
    for i in range(len(H_tracks)):
        base = 1939 + 58 * i
        mx_ = H_track_max[i]
        if r == 0:
            yt = dict(tickvals=[0, mx_], ticktext=["0", H_track_max_labels[i]], showticklabels=True)
        else:
            yt = dict(tickvals=[mx_], showticklabels=False)
        xt, ytk = new_axes(x0, x1, base - 39, base,
                           xa=dict(range=[0, kb], showline=True, linecolor=K, linewidth=2.5, ticks="",
                                   showticklabels=False),
                           ya=ax(25, range=[0, mx_], linewidth=2.5, ticklen=8, tickwidth=2.5, **yt))
        pts = signals[r][i]
        if pts:
            traces.append(go.Scatter(x=[p[0] for p in pts], y=[p[1] for p in pts], mode="lines",
                                     line=dict(color=H_colors[i], width=1), fill="tozeroy",
                                     fillcolor=H_colors[i], xaxis=xt, yaxis=ytk, hoverinfo="skip"))
        else:
            traces.append(go.Scatter(x=[0], y=[0], mode="markers", marker=dict(opacity=0, size=1),
                                     xaxis=xt, yaxis=ytk, hoverinfo="skip"))
    xo, yo = new_axes(x0, x1, 1940, 2370, xa=dict(range=[0, kb], visible=False),
                      ya=dict(range=[(2370 - 1951) / 58.0, (1940 - 1951) / 58.0], visible=False))
    for i in range(len(H_tracks)):
        for strong in (0, 1):
            xs, ys = [], []
            for (s0, s1_, st) in calls[r][i]:
                if st == strong:
                    xs += [s0, s1_, None]
                    ys += [i, i, None]
            if xs:
                traces.append(go.Scatter(x=xs, y=ys, mode="lines",
                                         line=dict(color=H_colors[i] if strong else H_light[i], width=5),
                                         xaxis=xo, yaxis=yo, hoverinfo="skip"))
    xg_, yg_ = new_axes(x0, x1, 2362, 2475, xa=dict(range=[0, kb], visible=False),
                        ya=dict(range=[-3.3, 0.6], visible=False))
    gene_axes.append((xg_, yg_))

GENE_BLUE = "#2d3a9c"
for gi, name in enumerate(H_genes):
    xg_, yg_ = gene_axes[H_gene_region[gi]]
    s0, s1_ = H_gene_span_kb[gi]
    traces.append(go.Scatter(x=[s0, s1_], y=[0, 0], mode="lines", line=dict(color=GENE_BLUE, width=2.5),
                             xaxis=xg_, yaxis=yg_, hoverinfo="skip"))
    ex, ey = [], []
    for e in H_gene_exons_kb[gi]:
        ex += [e, e, None]
        ey += [-0.27, 0.27, None]
    if ex:
        traces.append(go.Scatter(x=ex, y=ey, mode="lines", line=dict(color=GENE_BLUE, width=3),
                                 xaxis=xg_, yaxis=yg_, hoverinfo="skip"))
    for blocks, wdt in [(H_gene_blocks_kb[gi], 11), (H_gene_bigblocks_kb[gi], 18)]:
        bx, by = [], []
        for (b0, b1) in blocks:
            bx += [b0, b1, None]
            by += [0, 0, None]
        if bx:
            traces.append(go.Scatter(x=bx, y=by, mode="lines", line=dict(color=GENE_BLUE, width=wdt),
                                     xaxis=xg_, yaxis=yg_, hoverinfo="skip"))
    note(H_gene_label_kb[gi], -0.95, "<i>%s</i>" % name, 31, xref=xg_, yref=yg_)
xg3, yg3 = gene_axes[2]
traces.append(go.Scatter(x=list(H_superenhancer_kb), y=[-2, -2], mode="lines", line=dict(color=K, width=15),
                         xaxis=xg3, yaxis=yg3, hoverinfo="skip"))
note(H_superenhancer_label_kb, -2.8, "Super-enhancer", 30, xref=xg3, yref=yg3)

for i, lab in enumerate(H_tracks):
    note(208, 1939 + 58 * i - 14, lab, 31, xanchor="right")
note(222, 2333, "logLR", 20, angle=-90)

# ======================= FIGURE =======================
fig = go.Figure(data=traces)
fig.update_layout(template="none", width=FW, height=FH, margin=dict(l=0, r=0, t=0, b=0, pad=0),
                  paper_bgcolor="white", plot_bgcolor="rgba(0,0,0,0)", showlegend=False,
                  barmode="overlay", font=dict(family=FONT, size=30, color=K),
                  annotations=annotations, shapes=shapes, **layout_axes)
fig.write_html("out.html", config={"displayModeBar": False})
